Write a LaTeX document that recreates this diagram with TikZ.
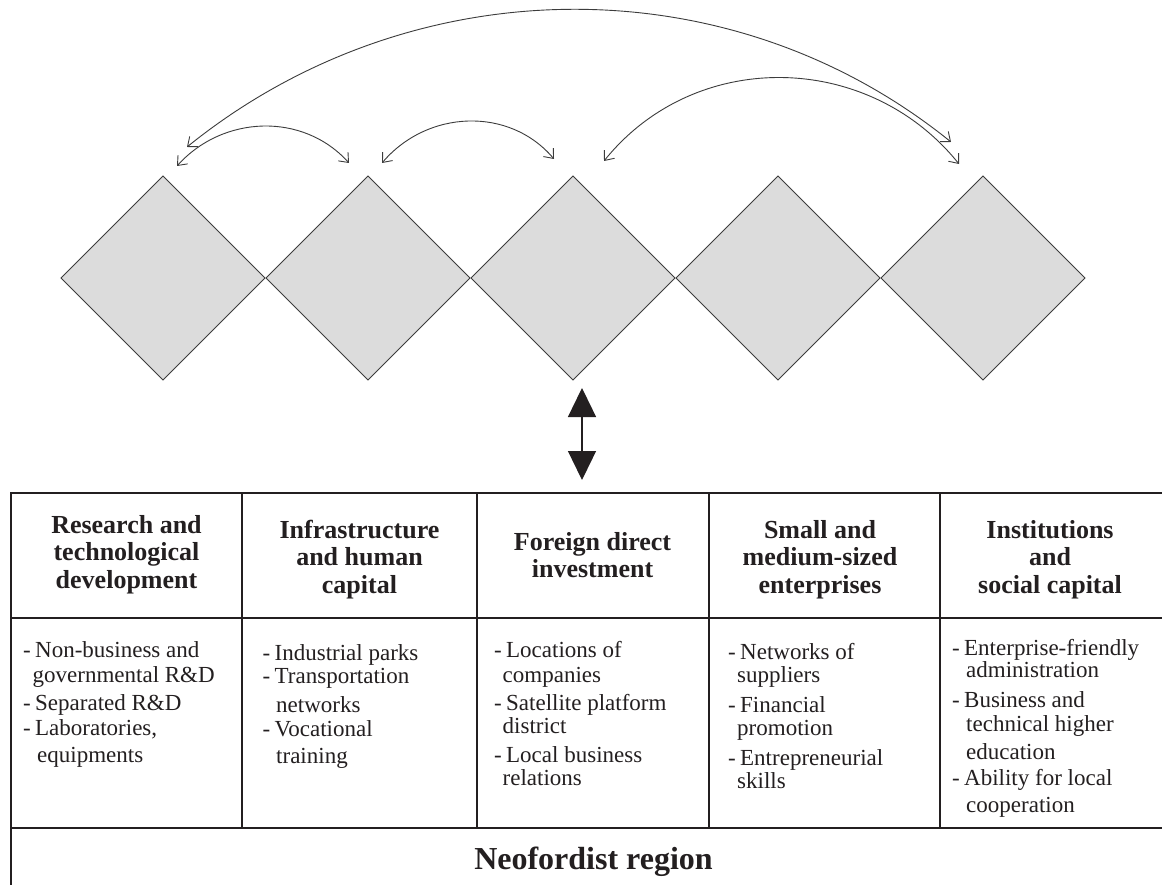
\documentclass[tikz,border=0pt]{standalone}
\usepackage{fontspec}
\setmainfont{Liberation Serif}
\usetikzlibrary{shapes.geometric,arrows.meta}
\definecolor{ink}{HTML}{231F20}
\definecolor{dfill}{HTML}{DCDCDC}
\definecolor{dline}{HTML}{3C3C3C}
\newcommand{\hdtab}[1]{\begin{tabular}[t]{@{}c@{}}#1\end{tabular}}
\newcommand{\bdtab}[1]{\begin{tabular}[t]{@{}l@{}}#1\end{tabular}}
\newcommand{\dsh}{\makebox[12pt][l]{-}}
\begin{document}
\begin{tikzpicture}[x=1pt,y=-1pt,
  dia/.style={diamond, shape aspect=1, minimum width=204pt, minimum height=204pt,
    inner sep=0pt, outer sep=0pt, fill=dfill, draw=dline, line width=0.9pt},
  link/.style={draw=dline, line width=0.9pt,
    {Straight Barb[length=8pt,width=13pt]}-{Straight Barb[length=8pt,width=13pt]}},
  bigarrow/.style={draw=ink, line width=1.3pt,
    {Triangle[length=29pt,width=28pt]}-{Triangle[length=29pt,width=28pt]}},
  grid/.style={draw=ink, line width=1.2pt},
  head/.style={font=\fontsize{26}{27.5}\selectfont\bfseries, text=ink, inner sep=0pt, anchor=base},
  body/.style={font=\fontsize{23}{24}\selectfont, text=ink, inner sep=0pt, anchor=base west},
  title/.style={font=\fontsize{32}{36}\selectfont\bfseries, text=ink, inner sep=0pt, anchor=base}]
\fill[white] (0,0) rectangle (1162,885);
\useasboundingbox (0,0) rectangle (1162,885);

% diamonds
\node[dia] (d1) at (163,278) {};
\node[dia] (d2) at (368,278) {};
\node[dia] (d3) at (573,278) {};
\node[dia] (d4) at (778,278) {};
\node[dia] (d5) at (983,278) {};

% arrow end points
\coordinate (a1) at (177,166);
\coordinate (a2) at (349,163);
\coordinate (b1) at (382,163);
\coordinate (b2) at (554,159);
\coordinate (c1) at (187,147);
\coordinate (c2) at (951,142);
\coordinate (e1) at (604,161);
\coordinate (e2) at (959,164);

\draw[link] (a1) .. controls (223,115) and (303,112) .. (a2);
\draw[link] (b1) .. controls (427,110) and (509,106) .. (b2);
\draw[link] (c1) .. controls (410,-33) and (728,-38) .. (c2);
\draw[link] (e1) .. controls (695,48) and (868,51) .. (e2);

% vertical double arrow
\coordinate (vt) at (582,388);
\coordinate (vb) at (582,480);
\draw[bigarrow] (vt) -- (vb);

% table
\draw[grid] (1162,493) -- (11,493) -- (11,885);
\draw[grid] (11,618) -- (1162,618);
\draw[grid] (11,828) -- (1162,828);
\foreach \xx in {242,477,709,940} \draw[grid] (\xx,493) -- (\xx,828);

% headers
\node[head] (h1) at (126.5,533) {\hdtab{Research and\\technological\\development}};
\node[head] (h2) at (359.5,538) {\hdtab{Infrastructure\\and human\\capital}};
\node[head] (h3) at (592.5,550) {\hdtab{Foreign direct\\investment}};
\node[head] (h4) at (820,538) {\hdtab{Small and\\medium-sized\\enterprises}};
\node[head] (h5) at (1050,538) {\hdtab{Institutions\\and\\social capital}};

% bodies
\node[body] (t1) at (23,657) {\bdtab{\dsh Non-business and\\[1pt]
\hspace*{9.5pt}governmental R\&D\\[4pt]
\dsh Separated R\&D\\[1pt]
\dsh Laboratories,\\[3pt]
\hspace*{14pt}equipments}};
\node[body] (t2) at (262.5,660) {\bdtab{\dsh Industrial parks\\[-1pt]
\dsh Transportation\\[5pt]
\hspace*{13.5pt}networks\\
\dsh Vocational\\[3pt]
\hspace*{13.5pt}training}};
\node[body] (t3) at (494,657) {\bdtab{\dsh Locations of\\[1pt]
\hspace*{8.5pt}companies\\[4pt]
\dsh Satellite platform\\[-1pt]
\hspace*{8.5pt}district\\[5pt]
\dsh Local business\\[-1pt]
\hspace*{8.5pt}relations}};
\node[body] (t4) at (728,659) {\bdtab{\dsh Networks of\\[-1pt]
\hspace*{9pt}suppliers\\[6pt]
\dsh Financial\\[-1pt]
\hspace*{9pt}promotion\\[6pt]
\dsh Entrepreneurial\\[-1pt]
\hspace*{9pt}skills}};
\node[body] (t5) at (952,655) {\bdtab{\dsh Enterprise-friendly\\[-2pt]
\hspace*{14pt}administration\\[6pt]
\dsh Business and\\
\hspace*{14pt}technical higher\\[4pt]
\hspace*{14pt}education\\[2pt]
\dsh Ability for local\\[3pt]
\hspace*{14pt}cooperation}};

\node[title] (reg) at (593.5,869) {Neofordist region};
\end{tikzpicture}
\end{document}
